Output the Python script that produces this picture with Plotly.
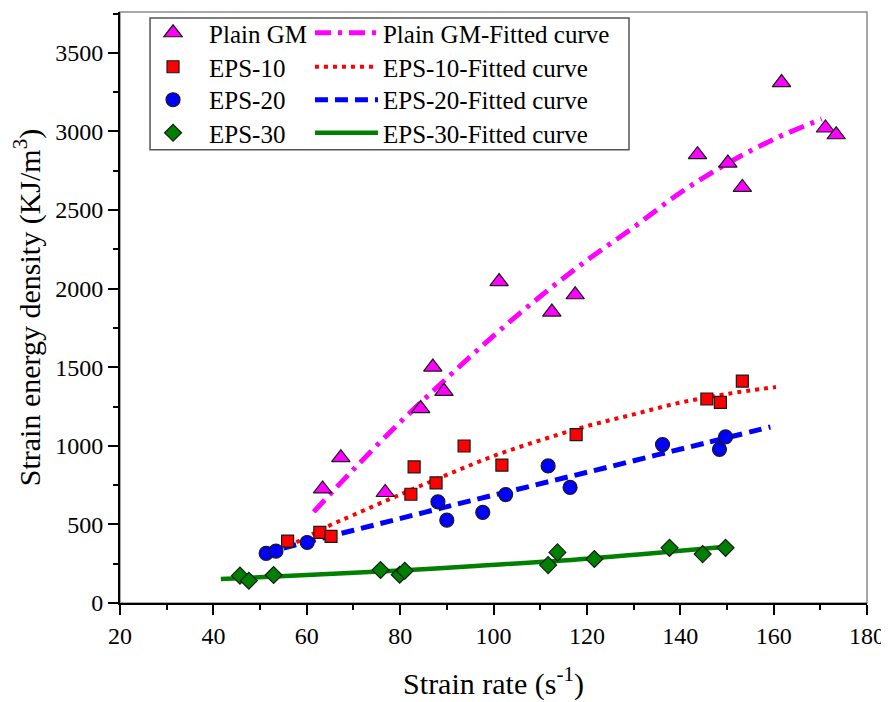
import plotly.graph_objects as go

# ---- data ----
gm_x = [63.4, 67.3, 76.8, 84.4, 87.0, 89.4, 101.2, 112.5, 117.5, 143.7, 150.2, 153.3, 161.7, 171.1, 173.4]
gm_y = [726, 925, 703, 1237, 1501, 1347, 2045, 1851, 1961, 2852, 2799, 2644, 3311, 3022, 2979]

e10_x = [55.9, 62.8, 65.2, 82.3, 83.0, 87.7, 93.7, 101.8, 117.7, 145.7, 148.6, 153.3]
e10_y = [394, 449, 424, 692, 866, 764, 999, 877, 1071, 1298, 1277, 1412]

e20_x = [51.3, 53.4, 60.1, 88.1, 90.0, 97.7, 102.6, 111.7, 116.4, 136.2, 148.4, 149.7]
e20_y = [316, 330, 385, 644, 527, 576, 690, 872, 735, 1008, 978, 1057]

e30_x = [45.7, 47.6, 52.9, 75.8, 79.9, 81.0, 111.7, 113.7, 121.6, 137.7, 144.8, 149.7]
e30_y = [174, 142, 178, 210, 180, 205, 241, 322, 280, 351, 311, 351]

# fitted curves
gm_fit_x = [61.5, 70, 80, 90, 100, 110, 120, 130, 140, 150, 160, 170.3]
gm_fit_y = [580, 850, 1150, 1430, 1700, 1950, 2180, 2390, 2610, 2795, 2950, 3079]

e10_fit_x = [56, 60, 65, 70, 80, 90, 100, 110, 120, 130, 140, 150, 160.5]
e10_fit_y = [360, 420, 495, 560, 690, 815, 935, 1035, 1125, 1200, 1275, 1330, 1374]

e20_fit_x = [55, 65, 75, 85, 95, 105, 115, 125, 135, 145, 159.3]
e20_fit_y = [350, 425, 500, 575, 650, 722, 795, 868, 942, 1015, 1120]

e30_fit_x = [41.6, 60, 80, 97, 120, 148.5]
e30_fit_y = [152, 178, 207, 237, 282, 354]

x_ticks = [20, 40, 60, 80, 100, 120, 140, 160, 180]
y_ticks = [0, 500, 1000, 1500, 2000, 2500, 3000, 3500]

FONT = "Liberation Serif, Times New Roman, serif"
MAG, RED, BLUE, GREEN = "#FF00FF", "#FF0000", "#0000FF", "#008000"
EDGE = dict(color="#1a1a1a", width=1.2)

# legend row centres (paper y) and column positions (paper x)
ROWS = [0.9628, 0.9054, 0.8497, 0.7939]
COL1_X, COL2_X = 0.0228, 0.2543

fig = go.Figure()

fits = [
    (gm_fit_x, gm_fit_y, "Plain GM-Fitted curve", dict(color=MAG, width=5, dash="16px,7px,4px,7px")),
    (e10_fit_x, e10_fit_y, "EPS-10-Fitted curve", dict(color=RED, width=4, dash="4px,5px")),
    (e20_fit_x, e20_fit_y, "EPS-20-Fitted curve", dict(color=BLUE, width=5, dash="13px,7px")),
    (e30_fit_x, e30_fit_y, "EPS-30-Fitted curve", dict(color=GREEN, width=4.5)),
]
pts = [
    (gm_x, gm_y, "Plain GM", dict(symbol="triangle-up", size=16, color=MAG, line=EDGE)),
    (e10_x, e10_y, "EPS-10", dict(symbol="square", size=12, color=RED, line=EDGE)),
    (e20_x, e20_y, "EPS-20", dict(symbol="circle", size=14, color=BLUE, line=EDGE)),
    (e30_x, e30_y, "EPS-30", dict(symbol="diamond", size=13, color=GREEN, line=EDGE)),
]

legend_font = dict(family=FONT, size=25, color="black")
legends = {}
for i, (fx, fy, name, ln) in enumerate(fits):
    key = "legend%d" % (i + 5)
    fig.add_trace(go.Scatter(x=fx, y=fy, mode="lines", name=name, showlegend=True,
                             line=dict(shape="spline", **ln), legend=key))
    legends[key] = dict(x=COL2_X, y=ROWS[i], xanchor="left", yanchor="middle", visible=True,
                        bgcolor="rgba(0,0,0,0)", borderwidth=0, font=legend_font, itemwidth=63)
for i, (px, py, name, mk) in enumerate(pts):
    key = "legend" if i == 0 else "legend%d" % (i + 1)
    fig.add_trace(go.Scatter(x=px, y=py, mode="markers", name=name, marker=mk, showlegend=True,
                             legend=key))
    legends[key] = dict(x=COL1_X, y=ROWS[i], xanchor="left", yanchor="middle", visible=True,
                        bgcolor="rgba(0,0,0,0)", borderwidth=0, font=legend_font, itemwidth=62)

axis_common = dict(
    showline=True, linecolor="black", linewidth=2, mirror=False,
    ticks="outside", ticklen=10, tickwidth=2, tickcolor="black",
    showgrid=False, zeroline=False, automargin=False,
    tickfont=dict(family=FONT, size=24, color="black"),
)

fig.update_xaxes(range=[20, 180], tickvals=x_ticks,
                 minor=dict(dtick=10, ticks="outside", ticklen=5, tickwidth=2, tickcolor="black"),
                 title=dict(text="Strain rate (s<sup>-1</sup>)", font=dict(family=FONT, size=30, color="black"),
                            standoff=25),
                 **axis_common)
fig.update_yaxes(range=[0, 3760], tickvals=y_ticks,
                 minor=dict(dtick=250, ticks="outside", ticklen=5, tickwidth=2, tickcolor="black"),
                 title=dict(text="Strain energy density (KJ/m<sup>3</sup>)",
                            font=dict(family=FONT, size=30, color="black"), standoff=17),
                 **axis_common)

fig.update_layout(
    width=881, height=694,
    margin=dict(l=112, r=22, t=3, b=99),
    showlegend=True,
    paper_bgcolor="white", plot_bgcolor="white",
    font=dict(family=FONT, color="black"),
    shapes=[
        dict(type="rect", xref="paper", yref="paper", x0=0, x1=1, y0=0, y1=1,
             line=dict(color="#8a8a8a", width=1.5), layer="below"),
        dict(type="rect", xref="paper", yref="paper", x0=0.0402, x1=0.6814, y0=0.7669, y1=0.9899,
             line=dict(color="#555555", width=1.5), layer="above"),
    ],
    **legends,
)

fig.write_html("out.html")
